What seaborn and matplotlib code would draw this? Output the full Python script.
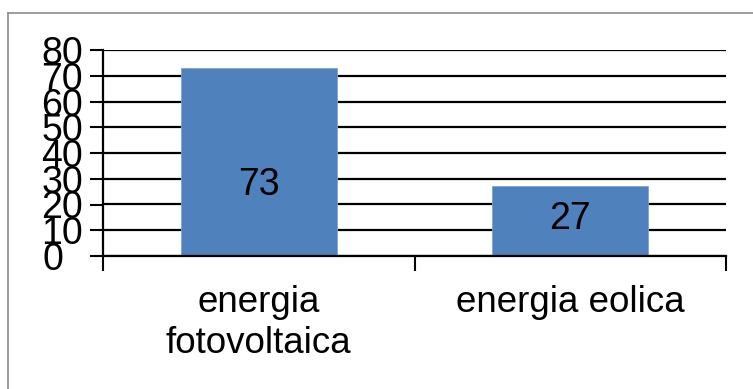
import matplotlib
matplotlib.use("Agg")
import matplotlib.pyplot as plt
from matplotlib.lines import Line2D
from matplotlib.transforms import ScaledTranslation
import seaborn as sns
import pandas as pd

categories = ["energia\nfotovoltaica", "energia eolica"]
values = [73, 27]
value_labels = ["73", "27"]
label_y = [27.5, 14.2]
y_ticks = [0, 10, 20, 30, 40, 50, 60, 70, 80]

plt.rcParams['font.family'] = ['Liberation Sans', 'DejaVu Sans']

W, H = 753, 389
fig = plt.figure(figsize=(W / 100, H / 100), dpi=100)
ax = fig.add_axes([103 / W, 1 - 256 / H, (726 - 103) / W, (256 - 50) / H])

df = pd.DataFrame({"cat": categories, "val": values})
sns.barplot(data=df, x="cat", y="val", color="#4F81BD", saturation=1,
            width=0.5, ax=ax, zorder=3, edgecolor="#7FA3D3", linewidth=0.6)

ax.set_xlim(-0.5, 1.5)
ax.set_ylim(0, 80)
ax.set_yticks(y_ticks)
ax.set_yticklabels([str(t) for t in y_ticks], fontsize=27)
ax.tick_params(axis='y', length=9.5, width=1.5, pad=5, color='black')
ax.yaxis.grid(True, color='black', linewidth=1.6, zorder=1)
ax.set_axisbelow(True)

# the bottom "0" label sits further left in the reference
lab0 = ax.get_yticklabels()[0]
lab0.set_transform(lab0.get_transform() + ScaledTranslation(-0.19, 0, fig.dpi_scale_trans))

# category boundaries as major x ticks, labels on minor ticks
ax.set_xticks([-0.5, 0.5, 1.5])
ax.set_xticklabels(["", "", ""])
ax.set_xticks([0, 1], minor=True)
ax.set_xticklabels(categories, minor=True, fontsize=26.5)
ax.tick_params(axis='x', which='major', length=10.5, width=1.5, color='black')
ax.tick_params(axis='x', which='minor', length=0, pad=21)

for s in ["top", "right"]:
    ax.spines[s].set_visible(False)
for s in ["left", "bottom"]:
    ax.spines[s].set_linewidth(1.6)
    ax.spines[s].set_color('black')
    ax.spines[s].set_zorder(4)

ax.set_xlabel("")
ax.set_ylabel("")

for i, (lab, ly) in enumerate(zip(value_labels, label_y)):
    ax.text(i, ly, lab, ha='center', va='center', fontsize=27, color='black', zorder=5)

# outer gray frame
fig.add_artist(Line2D([8 / W, 8 / W], [0, 1 - 13 / H], transform=fig.transFigure,
                      color='#8c8c8c', linewidth=1.2))
fig.add_artist(Line2D([8 / W, 1], [1 - 13 / H, 1 - 13 / H], transform=fig.transFigure,
                      color='#8c8c8c', linewidth=1.2))

fig.savefig("out.png", dpi=100, facecolor='white')
